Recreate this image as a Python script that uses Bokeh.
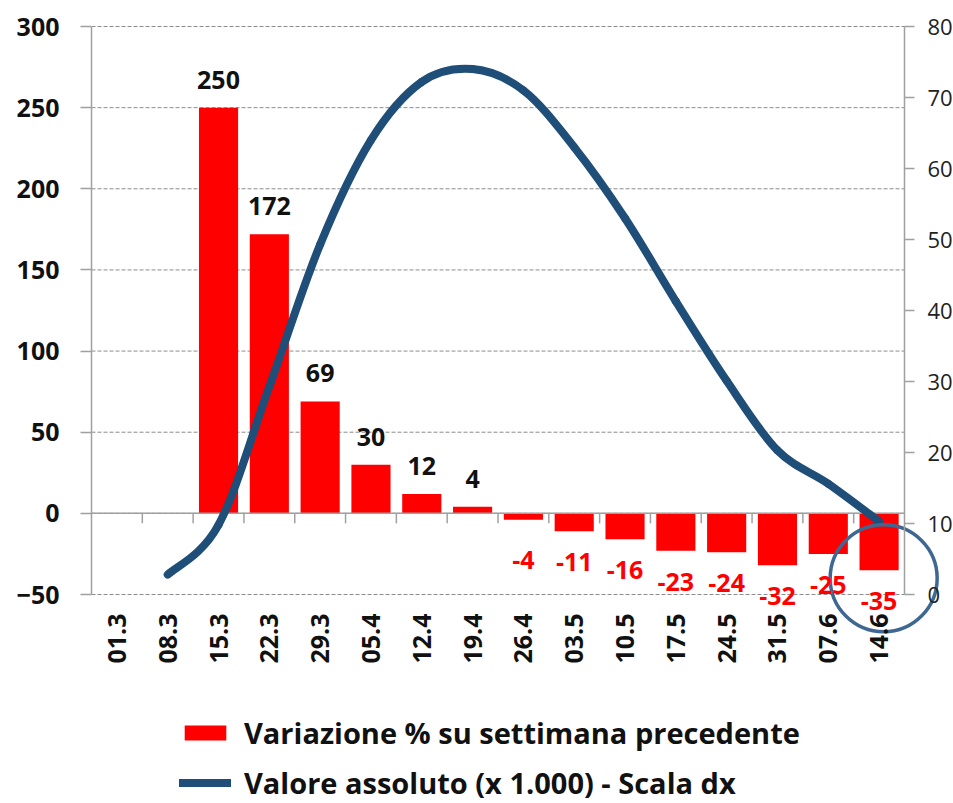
import math
from bokeh.plotting import figure
from bokeh.models import (Range1d, LinearAxis, FixedTicker, Legend, LegendItem,
                          ColumnDataSource, LabelSet)
from bokeh.core.properties import value
from bokeh.embed import file_html
from bokeh.resources import INLINE

# ---------------- data ----------------
categories = ["01.3", "08.3", "15.3", "22.3", "29.3", "05.4", "12.4", "19.4",
              "26.4", "03.5", "10.5", "17.5", "24.5", "31.5", "07.6", "14.6"]
variazione = [None, None, 250, 172, 69, 30, 12, 4, -4, -11, -16, -23, -24, -32, -25, -35]
valore = [None, 2.8, 9.8, 29.3, 49.3, 64.0, 72.2, 74.0, 71.0, 63.0, 53.0, 41.3, 30.1, 20.3, 15.6, 10.3]
left_ticks = [-50, 0, 50, 100, 150, 200, 250, 300]
right_ticks = [0, 10, 20, 30, 40, 50, 60, 70, 80]
label_bars = "Variazione % su settimana precedente"
label_line = "Valore assoluto (x 1.000) - Scala dx"

# ---------------- style / layout ----------------
FONT = "Open Sans"
RED = "#FF0000"
BLUE = "#1F4E79"
CIRCLE = "#3E6792"
AXIS = "#A0A0A0"
GRID = "#8C8C8C"
W, H = 953, 803
PL, PR, PT, PB = 91, 904, 26, 594          # edges of the plotting area (px)

n = len(categories)
xc = [i + 0.5 for i in range(n)]
ppx = (PR - PL) / n
ppy = (PB - PT) / (left_ticks[-1] - left_ticks[0])
ppy_r = (PB - PT) / (right_ticks[-1] - right_ticks[0])

# the frame starts at the left axis and extends to the right/bottom edges of the canvas
x_range = Range1d(0, n + (W - PR) / ppx)
y_range = Range1d(left_ticks[0] - (H - PB) / ppy, left_ticks[-1] + PT / ppy)
y_right = Range1d(right_ticks[0] - (H - PB) / ppy_r, right_ticks[-1] + PT / ppy_r)

p = figure(frame_width=W - PL, frame_height=H, x_range=x_range, y_range=y_range,
           output_backend="svg", toolbar_location=None,
           min_border_left=PL, min_border_right=0, min_border_top=0, min_border_bottom=0)
p.outline_line_color = None
p.background_fill_color = "white"
p.border_fill_color = "white"
p.extra_y_ranges = {"right": y_right}
p.xgrid.visible = False
p.ygrid.visible = False

# dashed horizontal grid lines limited to the plotting area
p.segment(x0=[0] * len(left_ticks), x1=[n] * len(left_ticks), y0=left_ticks, y1=left_ticks,
          line_color=GRID, line_dash="4 2", line_width=1)

# left axis
ly = p.yaxis[0]
ly.ticker = FixedTicker(ticks=left_ticks)
ly.bounds = (left_ticks[0], left_ticks[-1])
ly.axis_line_color = AXIS
ly.axis_line_width = 1.5
ly.major_tick_line_color = AXIS
ly.major_tick_line_width = 1.5
ly.major_tick_out = 11
ly.major_tick_in = 0
ly.minor_tick_line_color = None
ly.major_label_standoff = 21
ly.major_label_text_font = FONT
ly.major_label_text_font_style = "bold"
ly.major_label_text_font_size = "25px"
ly.major_label_text_color = "#111111"

# right axis (drawn at the right edge of the plotting area)
ry = LinearAxis(y_range_name="right", ticker=FixedTicker(ticks=right_ticks),
                fixed_location=n, bounds=(right_ticks[0], right_ticks[-1]))
ry.axis_line_color = AXIS
ry.axis_line_width = 1.5
ry.major_tick_line_color = AXIS
ry.major_tick_line_width = 1.5
ry.major_tick_out = 10
ry.major_tick_in = 0
ry.minor_tick_line_color = None
ry.major_label_standoff = 13
ry.major_label_text_font = FONT
ry.major_label_text_font_size = "22px"
ry.major_label_text_color = "#222222"
p.add_layout(ry, "right")

# bottom (category) axis at the -50 level
bx = p.xaxis[0]
bx.fixed_location = left_ticks[0]
bx.bounds = (0, n)
bx.ticker = FixedTicker(ticks=xc)
bx.major_label_overrides = {x: c for x, c in zip(xc, categories)}
bx.major_label_orientation = math.pi / 2
bx.axis_line_color = None
bx.major_tick_line_color = None
bx.major_tick_out = 0
bx.major_tick_in = 0
bx.minor_tick_line_color = None
bx.major_label_standoff = 19
bx.major_label_text_font = FONT
bx.major_label_text_font_style = "bold"
bx.major_label_text_font_size = "25px"
bx.major_label_text_color = "#111111"

# bars
bar_x = [x for x, v in zip(xc, variazione) if v is not None]
bar_v = [v for v in variazione if v is not None]
bar_src = ColumnDataSource(dict(x=bar_x, top=bar_v))
bars = p.vbar(x="x", top="top", bottom=0, width=0.77, source=bar_src,
              fill_color=RED, line_color=None)

# zero line with category-boundary ticks
p.segment(x0=[0], x1=[n], y0=[0], y1=[0], line_color=AXIS, line_width=1.5)
tick_units = 10 / ppy
bounds = list(range(1, n))
p.segment(x0=bounds, y0=[0] * len(bounds), x1=bounds, y1=[-tick_units] * len(bounds),
          line_color=AXIS, line_width=1.5)

# smoothed line (Catmull-Rom -> cubic Bezier through the data points)
pts = [(x, v) for x, v in zip(xc, valore) if v is not None]
m = len(pts)
bz = dict(x0=[], y0=[], x1=[], y1=[], cx0=[], cy0=[], cx1=[], cy1=[])
for k in range(m - 1):
    p0 = pts[k - 1] if k > 0 else pts[k]
    p1 = pts[k]
    p2 = pts[k + 1]
    p3 = pts[k + 2] if k + 2 < m else pts[k + 1]
    bz["x0"].append(p1[0]); bz["y0"].append(p1[1])
    bz["x1"].append(p2[0]); bz["y1"].append(p2[1])
    bz["cx0"].append(p1[0] + (p2[0] - p0[0]) / 6); bz["cy0"].append(p1[1] + (p2[1] - p0[1]) / 6)
    bz["cx1"].append(p2[0] - (p3[0] - p1[0]) / 6); bz["cy1"].append(p2[1] - (p3[1] - p1[1]) / 6)
curve = p.bezier(x0="x0", y0="y0", x1="x1", y1="y1", cx0="cx0", cy0="cy0", cx1="cx1", cy1="cy1",
                 source=ColumnDataSource(bz), y_range_name="right",
                 line_color=BLUE, line_width=8, line_cap="round")

# data labels
lab_offsets = []
lab_colors = []
for v in bar_v:
    if v >= 0:
        lab_offsets.append(28)
        lab_colors.append("#111111")
    else:
        lab_offsets.append(-max(31, 47 - abs(v) * ppy))
        lab_colors.append(RED)
lab_src = ColumnDataSource(dict(x=bar_x, y=bar_v, text=[str(v) for v in bar_v],
                                off=lab_offsets, color=lab_colors))
p.add_layout(LabelSet(x="x", y="y", text="text", source=lab_src, y_offset="off",
                      text_color="color", text_align="center", text_baseline="middle",
                      text_font=value(FONT), text_font_style="bold", text_font_size="25px"))

# highlight circle around the last week
p.scatter(x=[xc[-1] + 0.09], y=[-40], size=107, marker="circle",
          fill_color=None, line_color=CIRCLE, line_width=3.5)

# legend
legend = Legend(items=[LegendItem(label=label_bars, renderers=[bars]),
                       LegendItem(label=label_line, renderers=[curve])],
                location=(88, 1), orientation="vertical")
legend.border_line_color = None
legend.background_fill_alpha = 0
legend.label_text_font = FONT
legend.label_text_font_style = "bold"
legend.label_text_font_size = "29px"
legend.label_text_color = "#111111"
legend.glyph_width = 52
legend.glyph_height = 19
legend.label_standoff = 13
legend.spacing = 11
legend.padding = 0
legend.margin = 0
p.add_layout(legend)

open("out.html", "w").write(file_html(p, INLINE))
